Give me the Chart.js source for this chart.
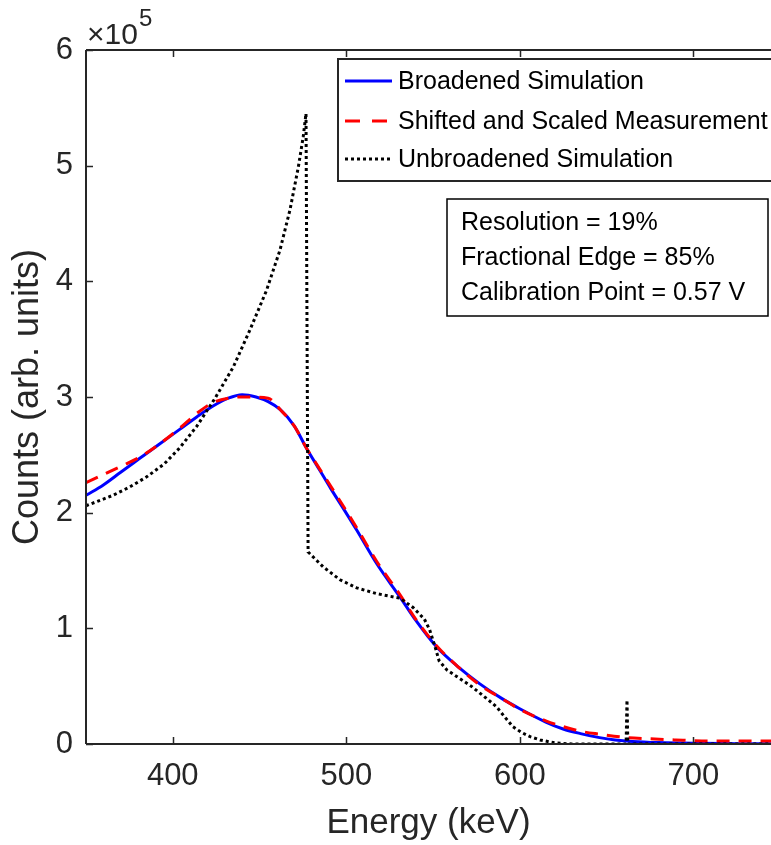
<!DOCTYPE html>
<html>
<head>
<meta charset="utf-8">
<script src="https://cdn.jsdelivr.net/npm/chart.js@4/dist/chart.umd.min.js"></script>
<style>
  html, body { margin: 0; padding: 0; background: #ffffff; overflow: hidden; }
  #wrap { position: relative; width: 771px; height: 845px; }
</style>
</head>
<body>
<div id="wrap"><canvas id="c" width="771" height="845"></canvas></div>
<script>
// ---- Data (energy in keV, counts in units of 1e5) ----
const broadEnergy = [350,360,370,381,392,404,414,423,432,440,448,455,462,470,477,485,491,499,506,517.5,531,540,552,565,577,590,600,615,625,635,646,655,665,680,700,725,750];
const broadCounts = [2.15,2.24,2.35,2.47,2.59,2.72,2.83,2.92,2.99,3.02,3.00,2.96,2.89,2.75,2.56,2.36,2.21,2.02,1.85,1.56,1.27,1.07,0.84,0.66,0.52,0.39,0.305,0.19,0.13,0.09,0.055,0.035,0.022,0.012,0.006,0.003,0.001];

const measEnergy = [350,360,370,381,392,404,414,423,432,440,455,462,470,477,485,491,499,506,517.5,531,540,552,565,577,590,600,615,625,635,646,662,675,690,705,750];
const measCounts = [2.26,2.33,2.40,2.48,2.59,2.73,2.86,2.95,2.99,3.00,2.99,2.89,2.75,2.56,2.37,2.23,2.04,1.87,1.58,1.29,1.08,0.85,0.66,0.51,0.39,0.30,0.20,0.15,0.11,0.085,0.055,0.045,0.035,0.027,0.025];

const unbroadEnergy = [350,357,365.5,375,385,395,404,414,424.4,434.9,444.5,454,461.8,467.6,472.4,475.2,476.8,478,486.8,496.4,506,517.5,531,538.5,545,548,551,553.5,558,565,572,577,582,586.7,591,596,601,606,611.7,620,630,661.3,661.8,662.3,750];
const unbroadCounts = [2.06,2.10,2.15,2.22,2.31,2.42,2.56,2.75,2.99,3.26,3.58,3.92,4.27,4.62,4.99,5.25,5.45,1.66,1.53,1.42,1.35,1.30,1.26,1.18,1.08,0.99,0.85,0.72,0.64,0.57,0.50,0.44,0.38,0.32,0.24,0.15,0.10,0.063,0.035,0.01,0,0,0.38,0,0];

const xTicks = [400, 500, 600, 700];
const yTicks = [0, 1, 2, 3, 4, 5, 6];
const yScaleFactor = 1e5;

const seriesNames = ['Broadened Simulation', 'Shifted and Scaled Measurement', 'Unbroadened Simulation'];
const infoLines = ['Resolution = 19%', 'Fractional Edge = 85%', 'Calibration Point = 0.57 V'];

const toPoints = (xs, ys) => xs.map((x, i) => ({ x: x, y: ys[i] * yScaleFactor }));

const AX = '#262626';
const FONT = '"Liberation Sans", Arial, Helvetica, sans-serif';
const legendDashes = [[], [15, 12], [3, 3]];

const framePlugin = {
  id: 'frame',
  afterDatasetsDraw(chart) {
    const { ctx, chartArea: a, scales } = chart;
    ctx.save();
    ctx.strokeStyle = AX;
    ctx.lineWidth = 2;
    ctx.beginPath();
    ctx.moveTo(a.left, a.top); ctx.lineTo(a.right + 2, a.top);
    ctx.moveTo(a.left, a.top); ctx.lineTo(a.left, a.bottom);
    ctx.moveTo(a.left, a.bottom); ctx.lineTo(a.right + 2, a.bottom);
    ctx.stroke();
    ctx.lineWidth = 1.5;
    ctx.beginPath();
    xTicks.forEach(v => {
      const px = Math.round(scales.x.getPixelForValue(v)) + 0.5;
      ctx.moveTo(px, a.bottom); ctx.lineTo(px, a.bottom - 7);
      ctx.moveTo(px, a.top); ctx.lineTo(px, a.top + 7);
    });
    yTicks.forEach(v => {
      const py = Math.round(scales.y.getPixelForValue(v * yScaleFactor)) + 0.5;
      ctx.moveTo(a.left, py); ctx.lineTo(a.left + 7, py);
    });
    ctx.stroke();

    // exponent label
    ctx.fillStyle = AX;
    ctx.textBaseline = 'alphabetic';
    ctx.textAlign = 'left';
    ctx.font = '30px ' + FONT;
    ctx.fillText('\u00D710', a.left + 1, a.top - 6);
    const w = ctx.measureText('\u00D710').width;
    ctx.font = '24px ' + FONT;
    ctx.fillText('5', a.left + 2 + w, a.top - 24);
    ctx.restore();
  },
  afterDraw(chart) {
    const { ctx, chartArea: a } = chart;
    ctx.save();
    // Legend box
    const lx = 338, ly = 59, lh = 122;
    ctx.fillStyle = '#ffffff';
    ctx.fillRect(lx, ly, a.right - lx + 20, lh);
    ctx.strokeStyle = AX;
    ctx.lineWidth = 2;
    ctx.strokeRect(lx, ly, a.right - lx + 20, lh);
    const rows = [81, 121, 159];
    const styles = chart.data.datasets;
    ctx.font = '25px ' + FONT;
    ctx.textBaseline = 'middle';
    ctx.textAlign = 'left';
    rows.forEach((ry, i) => {
      const ds = styles[i];
      ctx.strokeStyle = ds.borderColor;
      ctx.lineWidth = ds.borderWidth;
      ctx.setLineDash(legendDashes[i]);
      ctx.beginPath();
      ctx.moveTo(345, ry); ctx.lineTo(392, ry);
      ctx.stroke();
      ctx.setLineDash([]);
      ctx.fillStyle = '#000000';
      ctx.fillText(seriesNames[i], 398, ry + 1);
    });
    // Info box
    const bx = 447, by = 199, bw = 321, bh = 117;
    ctx.fillStyle = '#ffffff';
    ctx.fillRect(bx, by, bw, bh);
    ctx.strokeStyle = '#000000';
    ctx.lineWidth = 1.5;
    ctx.strokeRect(bx, by, bw, bh);
    ctx.fillStyle = '#000000';
    ctx.font = '25px ' + FONT;
    [222, 257, 292].forEach((ty, i) => ctx.fillText(infoLines[i], 461, ty + 1));
    ctx.restore();
  }
};

new Chart(document.getElementById('c'), {
  type: 'line',
  data: {
    datasets: [
      {
        label: seriesNames[0],
        data: toPoints(broadEnergy, broadCounts),
        borderColor: '#0000ff',
        borderWidth: 3,
        pointRadius: 0,
        cubicInterpolationMode: 'monotone',
        order: 2
      },
      {
        label: seriesNames[1],
        data: toPoints(measEnergy, measCounts),
        borderColor: '#ff0000',
        borderWidth: 3,
        borderDash: [13, 9],
        pointRadius: 0,
        cubicInterpolationMode: 'monotone',
        order: 1
      },
      {
        label: seriesNames[2],
        data: toPoints(unbroadEnergy, unbroadCounts),
        borderColor: '#000000',
        borderWidth: 3,
        borderDash: [3, 3],
        pointRadius: 0,
        tension: 0,
        order: 0
      }
    ]
  },
  options: {
    responsive: false,
    animation: false,
    events: [],
    layout: { padding: { top: 50, right: 0, left: 0, bottom: 0 } },
    plugins: { legend: { display: false }, tooltip: { enabled: false } },
    scales: {
      x: {
        type: 'linear',
        min: 350,
        max: 744.8,
        afterBuildTicks: s => { s.ticks = xTicks.map(v => ({ value: v })); },
        afterFit: s => { s.height = 101; },
        grid: { display: false, drawTicks: false },
        border: { display: false },
        ticks: { color: AX, font: { size: 31, family: FONT }, padding: 14, maxRotation: 0 },
        title: { display: true, text: 'Energy (keV)', color: AX, font: { size: 35, family: FONT }, padding: { top: 0, bottom: 1 } }
      },
      y: {
        type: 'linear',
        min: 0,
        max: 6 * yScaleFactor,
        afterBuildTicks: s => { s.ticks = yTicks.map(v => ({ value: v * yScaleFactor })); },
        afterFit: s => { s.width = 86; },
        grid: { display: false, drawTicks: false },
        border: { display: false },
        ticks: { color: AX, font: { size: 31, family: FONT }, padding: 13, callback: v => String(v / yScaleFactor) },
        title: { display: true, text: 'Counts (arb. units)', color: AX, font: { size: 36, family: FONT }, padding: { top: 6, bottom: 0 } }
      }
    }
  },
  plugins: [framePlugin]
});
</script>
</body>
</html>
